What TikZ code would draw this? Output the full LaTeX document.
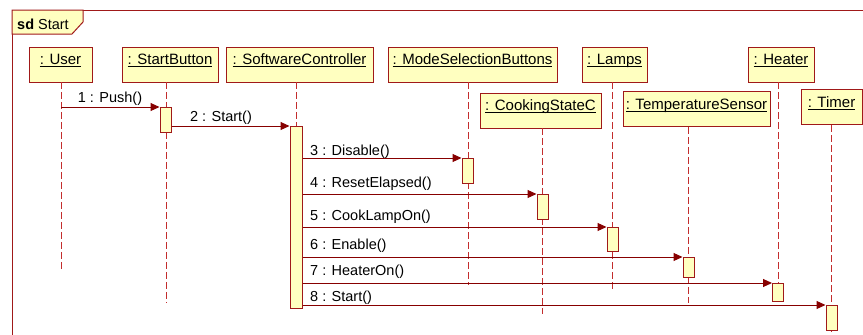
\documentclass[tikz,border=0pt]{standalone}
\usepackage{fontspec}
\setmainfont{Liberation Sans}
\usetikzlibrary{arrows.meta}

\definecolor{umlred}{RGB}{135,0,0}
\definecolor{boxred}{RGB}{160,25,25}
\definecolor{lifered}{RGB}{195,45,45}
\definecolor{umlyellow}{RGB}{255,255,192}

\newsavebox{\objbox}
\newcommand{\objname}[1]{\sbox{\objbox}{#1}%
  \raisebox{0pt}[0pt][0pt]{\rlap{\rule[-2.5pt]{\wd\objbox}{0.9pt}}\usebox{\objbox}}}

\tikzset{
  obj/.style={draw=boxred,fill=umlyellow,line width=1pt,minimum height=35pt,
    inner sep=0pt,font=\fontsize{15}{18}\selectfont},
  act/.style={draw=boxred,fill=umlyellow,line width=1pt,minimum width=11pt,
    inner sep=0pt,anchor=north},
  life/.style={draw=lifered,line width=.9pt,dash pattern=on 7pt off 3pt},
  msg/.style={draw=umlred,line width=1pt,-{Triangle[length=9pt,width=8pt]}},
  lbl/.style={font=\fontsize{14.5}{17}\selectfont,inner sep=0pt}
}

\begin{document}
\begin{tikzpicture}[x=1pt,y=-1pt]

	\clip (0,0) rectangle (863,335);

	% frame
	\draw[boxred,line width=1pt] (12,345) -- (12,10) -- (875,10);
	\draw[boxred,line width=1pt,fill=umlyellow] (12,10) -- (83,10) -- (83,22) -- (72,34) -- (12,34) -- cycle;
	\node (sd) at (17,29) [lbl,anchor=base west] {\textbf{sd} Start};

	% objects
	\node (user) at (60.5,64.5) [obj,minimum width=63] {\objname{: User}};
	\node (sb) at (170,64.5) [obj,minimum width=96] {\objname{: StartButton}};
	\node (sc) at (299.5,64.5) [obj,minimum width=147] {\objname{: SoftwareController}};
	\node (msb) at (472.5,64.5) [obj,minimum width=169] {\objname{: ModeSelectionButtons}};
	\node (csc) at (540.5,110.5) [obj,minimum width=121] {\objname{: CookingStateC}};
	\node (lamps) at (614.5,64.5) [obj,minimum width=65] {\objname{: Lamps}};
	\node (ts) at (696.5,109) [obj,minimum width=147] {\objname{: TemperatureSensor}};
	\node (heater) at (781,64.5) [obj,minimum width=66] {\objname{: Heater}};
	\node (timer) at (831.5,107) [obj,minimum width=61] {\objname{: Timer}};

	% lifelines
	\coordinate (userL) at (61,82);
	\coordinate (sbL) at (166,82);
	\coordinate (scL) at (296,82);
	\coordinate (msbL) at (468,82);
	\coordinate (cscL) at (542.5,128);
	\coordinate (lampsL) at (612.5,82);
	\coordinate (tsL) at (688.5,127);
	\coordinate (heaterL) at (778,82);
	\coordinate (timerL) at (831.5,125);

	\draw[life] (userL) -- (61,270);
	\draw[life] (sbL) -- (166,303);
	\draw[life] (scL) -- (296,311);
	\draw[life] (msbL) -- (468,285);
	\draw[life] (cscL) -- (542.5,314);
	\draw[life] (lampsL) -- (612.5,292);
	\draw[life] (tsL) -- (688.5,303);
	\draw[life] (heaterL) -- (778,284);
	\draw[life] (timerL) -- (831.5,340);

	% activations
	\node (sbAct) at (165.5,107) [act,minimum height=25] {};
	\node (scAct) at (296,126) [act,minimum width=12,minimum height=182] {};
	\node (msbAct) at (467.5,158) [act,minimum height=25] {};
	\node (cscAct) at (542.5,194) [act,minimum height=25] {};
	\node (lampsAct) at (612.5,227) [act,minimum height=24] {};
	\node (tsAct) at (688.5,257) [act,minimum height=20] {};
	\node (heaterAct) at (778,283) [act,minimum height=18] {};
	\node (timerAct) at (831.5,305) [act,minimum height=25] {};

	% messages
	\draw[msg] (userL |- sbAct.north) -- (sbAct.north west);
	\draw[msg] (sbAct.east |- scAct.north) -- (scAct.north west);
	\draw[msg] (scAct.east |- msbAct.north) -- (msbAct.north west);
	\draw[msg] (scAct.east |- cscAct.north) -- (cscAct.north west);
	\draw[msg] (scAct.east |- lampsAct.north) -- (lampsAct.north west);
	\draw[msg] (scAct.east |- tsAct.north) -- (tsAct.north west);
	\draw[msg] (scAct.east |- heaterAct.north) -- (heaterAct.north west);
	\draw[msg] (scAct.east |- timerAct.north) -- (timerAct.north west);

	\node (m1) at (110,102.5) [lbl,anchor=base] {1 : Push()};
	\node (m2) at (221,121.5) [lbl,anchor=base] {2 : Start()};
	\node (m3) at (310,155) [lbl,anchor=base west] {3 : Disable()};
	\node (m4) at (310,187) [lbl,anchor=base west] {4 : ResetElapsed()};
	\node (m5) at (310,220.5) [lbl,anchor=base west] {5 : CookLampOn()};
	\node (m6) at (310,249.5) [lbl,anchor=base west] {6 : Enable()};
	\node (m7) at (310,275) [lbl,anchor=base west] {7 : HeaterOn()};
	\node (m8) at (310,301.5) [lbl,anchor=base west] {8 : Start()};

\end{tikzpicture}
\end{document}
